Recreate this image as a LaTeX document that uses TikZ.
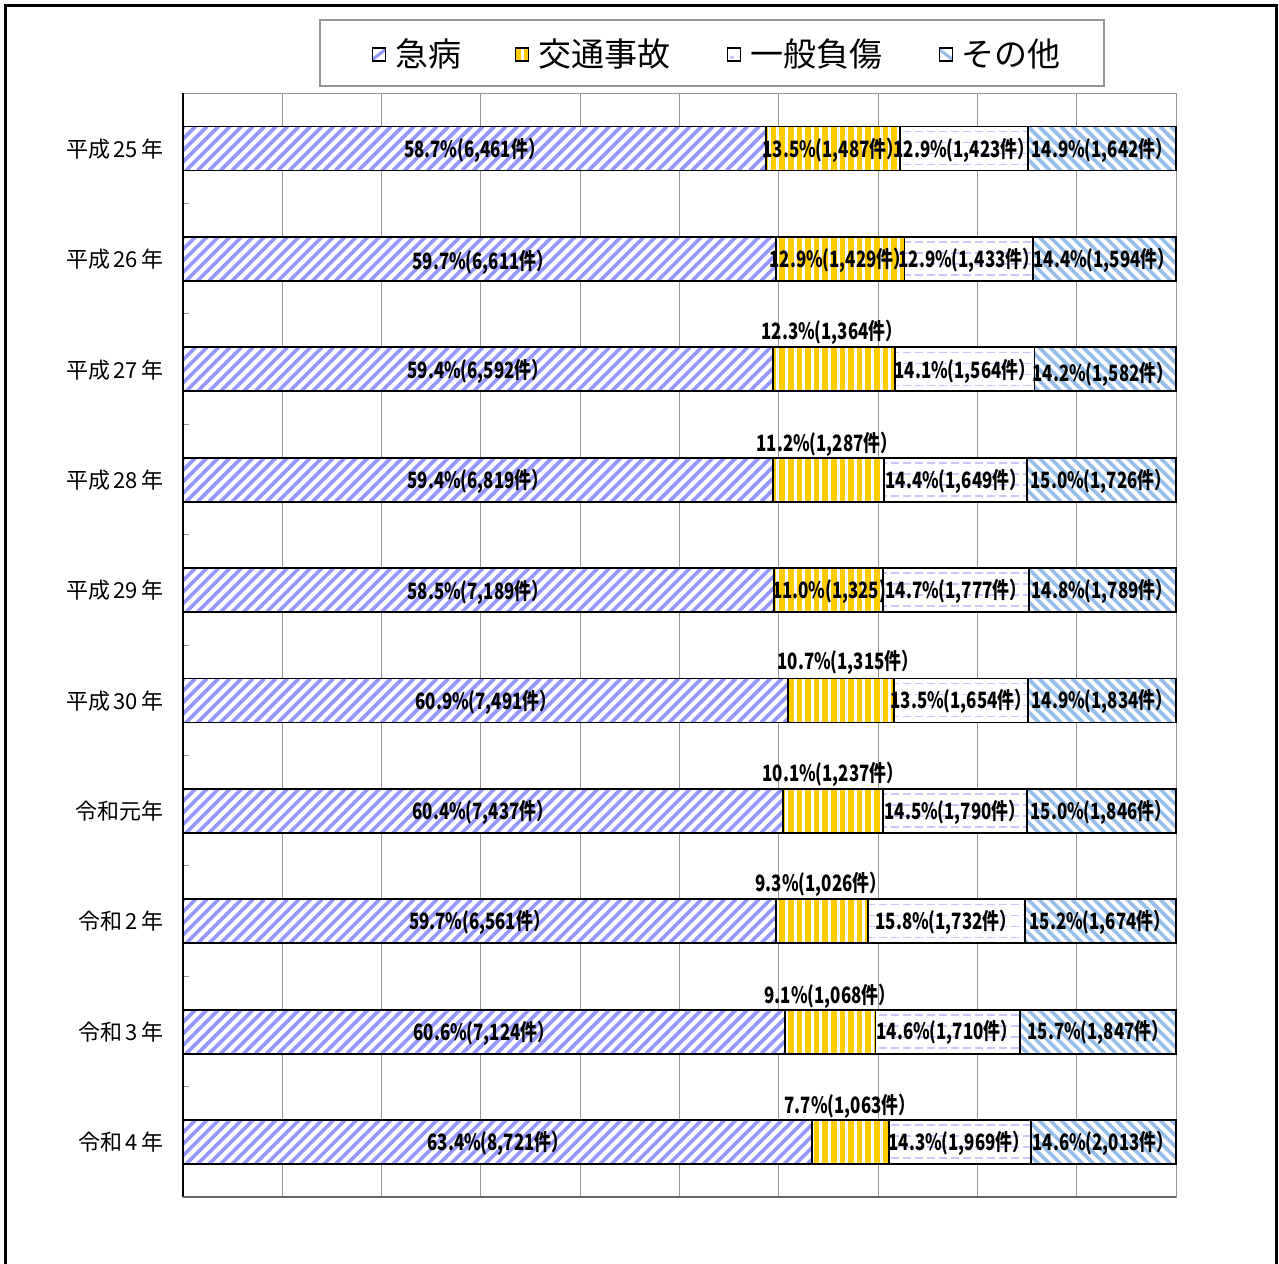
\documentclass[tikz,border=0pt]{standalone}
\usepackage{fontspec}
\newfontfamily\jpfont{Noto Sans CJK JP}
\newfontfamily\lblfont{Noto Sans CJK JP}[FakeStretch=0.75]
\definecolor{cA}{RGB}{150,150,255}
\definecolor{cB}{RGB}{255,204,0}
\definecolor{cC}{RGB}{200,200,250}
\definecolor{cD}{RGB}{150,190,235}
\definecolor{gridc}{RGB}{150,150,150}
\tikzset{
  stA/.style={cA,line width=3.6pt},
  stD/.style={cD,line width=3.6pt},
  stC/.style={cC,line width=1.6pt,dash pattern=on 8pt off 4pt},
  barline/.style={black,line width=1.8pt},
  lbl/.style={font=\lblfont\bfseries\fontsize{22.5}{22}\selectfont,inner sep=0pt,yshift=-1.5pt},
  ylab/.style={font=\jpfont\fontsize{22}{22}\selectfont,anchor=east,inner sep=0pt},
  legt/.style={font=\jpfont\fontsize{33}{33}\selectfont,anchor=west,inner sep=0pt},
  legm/.style={draw=black,line width=1.5pt,minimum size=13pt,inner sep=0pt},
}
\newcommand\barrow[4]{%
  \pgfmathsetmacro\myRT{#1-22}\pgfmathsetmacro\myRB{#1+22}%
  \begin{scope}
    \clip (183,\myRT) rectangle (#2,\myRB);
    \fill[white] (183,\myRT) rectangle (#2,\myRB);
    \foreach \k in {140,151.5,...,830} \draw[stA] (\k,\myRB) -- (\k+44,\myRT);
  \end{scope}
  \begin{scope}
    \clip (#2,\myRT) rectangle (#3,\myRB);
    \fill[cB] (#2,\myRT) rectangle (#3,\myRB);
    \foreach \k in {183,191.6,...,910} \fill[white] (\k,\myRT) rectangle (\k+3,\myRB);
  \end{scope}
  \begin{scope}
    \clip (#3,\myRT) rectangle (#4,\myRB);
    \fill[white] (#3,\myRT) rectangle (#4,\myRB);
    \foreach \o in {5,16,27,38} \draw[stC] (183,\myRT+\o) -- (1176,\myRT+\o);
  \end{scope}
  \begin{scope}
    \clip (#4,\myRT) rectangle (1176,\myRB);
    \fill[white] (#4,\myRT) rectangle (1176,\myRB);
    \foreach \k in {940,951,...,1180} \draw[stD] (\k,\myRT) -- (\k+44,\myRB);
  \end{scope}
  \draw[barline] (183,\myRT) rectangle (1176,\myRB);
  \draw[barline] (#2,\myRT) -- (#2,\myRB) (#3,\myRT) -- (#3,\myRB) (#4,\myRT) -- (#4,\myRB);
}
\begin{document}
\begin{tikzpicture}[x=1pt,y=-1pt]
\useasboundingbox (0,0) rectangle (1279,1263);
\fill[white] (0,0) rectangle (1279,1263);
\draw[black,line width=3pt] (5,6) rectangle (1276,1300);

% legend
\draw[gridc,line width=2pt] (320,20) rectangle (1104,86);
\node[legm,path picture={\fill[white] (path picture bounding box.south west) rectangle (path picture bounding box.north east);
  \draw[cA,line width=3pt] ([xshift=-2pt]path picture bounding box.south west) -- ([xshift=2pt]path picture bounding box.north east);}] (mA) at (379,54.5) {};
\node[legm,path picture={\fill[cB] (path picture bounding box.south west) rectangle (path picture bounding box.north east);
  \fill[white] ([xshift=-1.5pt]path picture bounding box.south) rectangle ([xshift=1.5pt]path picture bounding box.north);}] (mB) at (522,54.5) {};
\node[legm,path picture={\fill[white] (path picture bounding box.south west) rectangle (path picture bounding box.north east);
  \fill[cC] ([xshift=2pt,yshift=2pt]path picture bounding box.south west) rectangle ++(4pt,3pt);}] (mC) at (734,54.5) {};
\node[legm,path picture={\fill[white] (path picture bounding box.south west) rectangle (path picture bounding box.north east);
  \draw[cD,line width=3pt] ([xshift=-2pt]path picture bounding box.north west) -- ([xshift=2pt]path picture bounding box.south east);}] (mD) at (946,54.5) {};
\node[legt] (tA) at (395,54) {急病};
\node[legt] (tB) at (538,54) {交通事故};
\node[legt] (tC) at (750,54) {一般負傷};
\node[legt] (tD) at (961,54) {その他};

% plot area and grid
\draw[gridc,line width=1pt] (183,93) rectangle (1176,1197);
\foreach \i in {1,...,9} \draw[gridc,line width=1pt] (183+99.3*\i,93) -- (183+99.3*\i,1197);
\foreach \i in {1,...,9} \draw[gridc,line width=1pt] (183,93+110.4*\i) -- (189,93+110.4*\i);
\draw[black,line width=1.2pt] (183,93) -- (183,1197);
\draw[black!60,line width=1.2pt] (183,1197) -- (1176,1197);

% bars
\barrow{148.5}{765.6}{899.7}{1028.0}
\barrow{258.9}{776.2}{904.4}{1033.0}
\barrow{369.3}{772.6}{894.6}{1034.5}
\barrow{479.7}{772.8}{884.1}{1026.7}
\barrow{590.1}{773.9}{882.9}{1028.9}
\barrow{700.5}{788.1}{894.3}{1027.9}
\barrow{810.9}{782.9}{882.7}{1027.1}
\barrow{921.3}{775.6}{868.3}{1024.8}
\barrow{1031.7}{785.1}{875.4}{1019.9}
\barrow{1142.1}{812.1}{888.8}{1030.8}

% y labels
\node[ylab] (y1) at (164,149) {平成\,25\,年};
\node[ylab] (y2) at (164,259) {平成\,26\,年};
\node[ylab] (y3) at (164,370) {平成\,27\,年};
\node[ylab] (y4) at (164,480) {平成\,28\,年};
\node[ylab] (y5) at (164,590) {平成\,29\,年};
\node[ylab] (y6) at (164,701) {平成\,30\,年};
\node[ylab] (y7) at (164,811) {令和元年};
\node[ylab] (y8) at (164,921) {令和\,2\,年};
\node[ylab] (y9) at (164,1032) {令和\,3\,年};
\node[ylab] (y10) at (164,1142) {令和\,4\,年};

% data labels
\node[lbl] (a1) at (474.5,149) {58.7\%(6,461件）};
\node[lbl] (b1) at (833,149) {13.5\%(1,487件）};
\node[lbl] (c1) at (964,149) {12.9\%(1,423件）};
\node[lbl] (d1) at (1102,149) {14.9\%(1,642件）};

\node[lbl] (a2) at (483,261) {59.7\%(6,611件）};
\node[lbl] (b2) at (840,259) {12.9\%(1,429件）};
\node[lbl] (c2) at (969,259) {12.9\%(1,433件）};
\node[lbl] (d2) at (1104,259) {14.4\%(1,594件）};

\node[lbl] (a3) at (478,370) {59.4\%(6,592件）};
\node[lbl] (b3) at (832,331) {12.3\%(1,364件）};
\node[lbl] (c3) at (965,370) {14.1\%(1,564件）};
\node[lbl] (d3) at (1103,373) {14.2\%(1,582件）};

\node[lbl] (a4) at (478,480) {59.4\%(6,819件）};
\node[lbl] (b4) at (827,443) {11.2\%(1,287件）};
\node[lbl] (c4) at (956,480) {14.4\%(1,649件）};
\node[lbl] (d4) at (1101,480) {15.0\%(1,726件）};

\node[lbl] (a5) at (478,591) {58.5\%(7,189件）};
\node[lbl] (b5) at (829,590) {11.0\%(1,325)};
\node[lbl] (c5) at (956,590) {14.7\%(1,777件）};
\node[lbl] (d5) at (1102,590) {14.8\%(1,789件）};

\node[lbl] (a6) at (486,701) {60.9\%(7,491件）};
\node[lbl] (b6) at (848,661) {10.7\%(1,315件）};
\node[lbl] (c6) at (961,700) {13.5\%(1,654件）};
\node[lbl] (d6) at (1102,700) {14.9\%(1,834件）};

\node[lbl] (a7) at (483,811) {60.4\%(7,437件）};
\node[lbl] (b7) at (833,773) {10.1\%(1,237件）};
\node[lbl] (c7) at (955,811) {14.5\%(1,790件）};
\node[lbl] (d7) at (1101,811) {15.0\%(1,846件）};

\node[lbl] (a8) at (479.5,921) {59.7\%(6,561件）};
\node[lbl] (b8) at (821,883) {9.3\%(1,026件）};
\node[lbl] (c8) at (946,921) {15.8\%(1,732件）};
\node[lbl] (d8) at (1100,921) {15.2\%(1,674件）};

\node[lbl] (a9) at (484,1032) {60.6\%(7,124件）};
\node[lbl] (b9) at (830,995) {9.1\%(1,068件）};
\node[lbl] (c9) at (947,1031) {14.6\%(1,710件）};
\node[lbl] (d9) at (1098,1031) {15.7\%(1,847件）};

\node[lbl] (a10) at (498,1142) {63.4\%(8,721件）};
\node[lbl] (b10) at (850,1105) {7.7\%(1,063件）};
\node[lbl] (c10) at (959,1142) {14.3\%(1,969件）};
\node[lbl] (d10) at (1103,1142) {14.6\%(2,013件）};
\end{tikzpicture}
\end{document}
